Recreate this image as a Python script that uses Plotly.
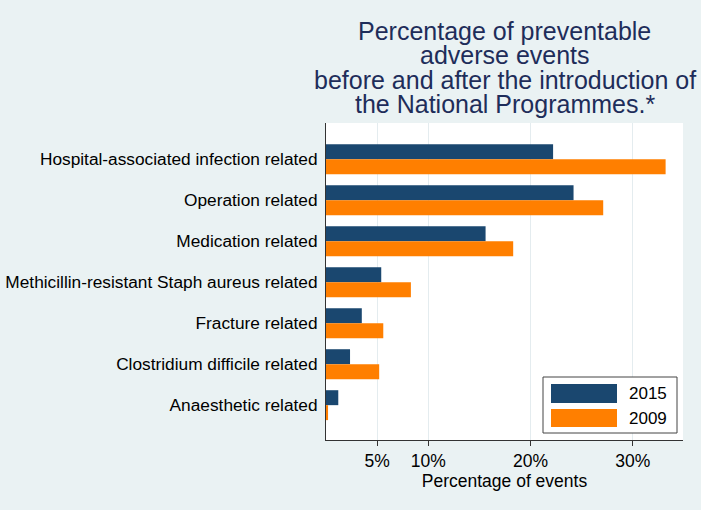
import plotly.graph_objects as go

# categories, top to bottom
categories = [
    "Hospital-associated infection related",
    "Operation related",
    "Medication related",
    "Methicillin-resistant Staph aureus related",
    "Fracture related",
    "Clostridium difficile related",
    "Anaesthetic related",
]
pct_2015 = [22.2, 24.2, 15.6, 5.4, 3.5, 2.35, 1.2]
pct_2009 = [33.2, 27.1, 18.3, 8.3, 5.6, 5.2, 0.2]

x_ticks = [5, 10, 20, 30]
x_tick_labels = ["5%", "10%", "20%", "30%"]

title_lines = [
    "Percentage of preventable",
    "adverse events",
    "before and after the introduction of",
    "the National Programmes.*",
]

NAVY = "#1a476f"
ORANGE = "#ff7f00"
BG = "#eaf2f3"

W, H = 701, 510
L, R, T, B = 326, 18, 123, 70


def px_x(x):
    return (x - L) / (W - L - R)


def px_y(y):
    return (H - B - y) / (H - T - B)


fig = go.Figure()
fig.add_trace(go.Bar(y=categories, x=pct_2015, name="2015", orientation="h",
                     marker=dict(color=NAVY, line=dict(width=0))))
fig.add_trace(go.Bar(y=categories, x=pct_2009, name="2009", orientation="h",
                     marker=dict(color=ORANGE, line=dict(width=0))))

# legend drawn by hand to get Stata-style wide keys
shapes = [
    dict(type="rect", xref="paper", yref="paper", x0=px_x(543), x1=px_x(677),
         y0=px_y(433), y1=px_y(377), line=dict(color="#444", width=1), fillcolor="white"),
    dict(type="rect", xref="paper", yref="paper", x0=px_x(551), x1=px_x(617),
         y0=px_y(403), y1=px_y(384), line=dict(width=0), fillcolor=NAVY),
    dict(type="rect", xref="paper", yref="paper", x0=px_x(551), x1=px_x(617),
         y0=px_y(427), y1=px_y(409), line=dict(width=0), fillcolor=ORANGE),
]
annotations = [
    dict(text=name, xref="paper", yref="paper", x=px_x(627), y=px_y(yc),
         xanchor="left", yanchor="middle", showarrow=False,
         font=dict(size=17, color="black"))
    for name, yc in [("2015", 393), ("2009", 418)]
]
# title as separate lines for tight line spacing
for line, yc in zip(title_lines, [31, 55, 80, 104]):
    annotations.append(dict(
        text=line, xref="paper", yref="paper", x=0.5, y=px_y(yc),
        xanchor="center", yanchor="middle", showarrow=False,
        font=dict(size=25, color="#1e2d5a"),
    ))

fig.update_layout(
    width=W, height=H,
    margin=dict(l=L, r=R, t=T, b=B),
    paper_bgcolor=BG, plot_bgcolor="white",
    font=dict(family="Liberation Sans, Arial, sans-serif", color="black"),
    barmode="group", bargap=0.27, bargroupgap=0,
    shapes=shapes, annotations=annotations,
    showlegend=False,
)
fig.update_xaxes(
    range=[0, 34.9], tickvals=x_ticks, ticktext=x_tick_labels,
    showgrid=True, gridcolor="#e4ecef", zeroline=False,
    showline=True, linecolor="#333", linewidth=1,
    ticks="outside", ticklen=5, tickcolor="#333",
    tickfont=dict(size=17.5), automargin=False,
    title=dict(text="Percentage of events", font=dict(size=17.5), standoff=0),
)
fig.update_yaxes(
    range=[6.85, -0.885], showgrid=False, zeroline=False,
    showline=True, linecolor="#333", linewidth=1,
    ticks="", tickfont=dict(size=17.3), ticklabelstandoff=4, automargin=False,
)

fig.write_html("out.html", config={"displayModeBar": False},
               post_script="document.body.style.margin='0';")
